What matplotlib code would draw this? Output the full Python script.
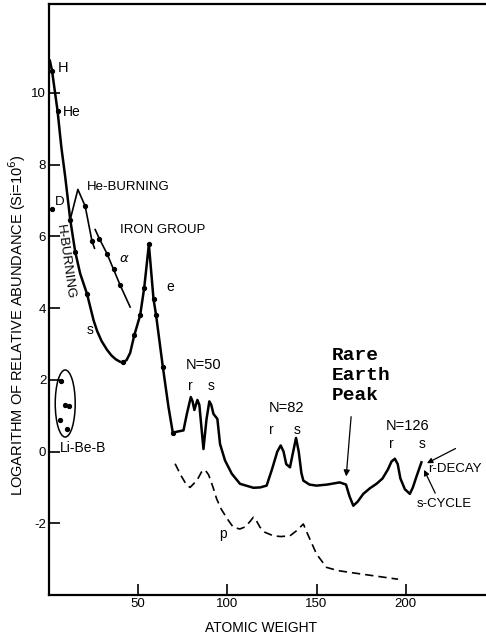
import matplotlib
matplotlib.use('Agg')
import matplotlib.pyplot as plt
from matplotlib.patches import Ellipse

plt.rcParams['font.family'] = ['Liberation Sans', 'DejaVu Sans']

# main abundance curve (atomic weight, log abundance)
main_a = [0.5, 1.7, 4.8, 6.9, 9.1, 11.9, 14.7, 17.5, 21.3, 25.0, 27.0, 29.5, 32.5, 35.0,
          37.5, 40.0, 41.5, 43.5, 45.5, 47.8, 51.1, 53.4, 56.0, 58.6, 60.0, 63.8, 67.0, 69.4,
          75.4, 77.3, 79.5, 80.5, 81.5, 83.2, 84.3, 86.6, 88.3, 89.9, 91.0, 92.2, 94.4, 95.9,
          98.7, 102.5, 107.1, 114.6, 118.4, 122.0, 125.0, 128.0, 129.9, 131.5, 133.0,
          135.1, 136.5, 138.5, 140.0, 141.5, 142.6, 146.0, 150.0, 156.0, 163.0, 166.5, 168.5,
          170.6, 173.0, 176.2, 180.0, 183.6, 187.0, 190.0, 192.0, 193.9, 195.5, 197.0, 199.5,
          202.3, 204.0, 206.0, 208.8]
main_y = [10.9, 10.62, 9.5, 8.5, 7.66, 6.47, 5.57, 4.96, 4.4, 3.66, 3.36, 3.08, 2.84, 2.68,
          2.57, 2.5, 2.49, 2.55, 2.75, 3.24, 3.8, 4.57, 5.78, 4.25, 3.82, 2.37, 1.24, 0.53,
          0.59, 1.05, 1.52, 1.4, 1.16, 1.44, 1.3, 0.07, 0.9, 1.4, 1.3, 1.05, 0.91, 0.21,
          -0.25, -0.62, -0.9, -1.01, -1.0, -0.95, -0.5, 0.0, 0.17, 0.0, -0.35,
          -0.44, -0.1, 0.38, 0.0, -0.6, -0.81, -0.92, -0.95, -0.92, -0.86, -0.92, -1.25,
          -1.51, -1.4, -1.18, -1.02, -0.9, -0.75, -0.5, -0.28, -0.2, -0.35, -0.75, -1.05,
          -1.18, -1.0, -0.7, -0.3]

# measured points on main curve
dot_a = [1.7, 4.8, 11.9, 14.7, 21.3, 41.5, 47.8, 51.1, 53.4, 56.0, 58.6, 60.0, 63.8, 69.4]
dot_y = [10.62, 9.5, 6.47, 5.57, 4.4, 2.49, 3.24, 3.8, 4.57, 5.78, 4.25, 3.82, 2.37, 0.53]

# He-burning branch
heb_a = [11.9, 16.2, 20.3, 24.1, 25.5]
heb_y = [6.47, 7.31, 6.84, 5.87, 5.67]
heb_dot_a = [20.3, 24.1]
heb_dot_y = [6.84, 5.87]

# alpha line
alpha_a = [25.9, 28.2, 32.5, 36.2, 39.9, 45.5]
alpha_y = [6.19, 5.94, 5.52, 5.08, 4.64, 4.03]
alpha_dot_a = [28.2, 32.5, 36.2, 39.9]
alpha_dot_y = [5.94, 5.52, 5.08, 4.64]

# deuterium and Li-Be-B
d_a, d_y = [1.7], [6.75]
libeb_a = [6.9, 9.1, 11.4, 6.0, 10.1]
libeb_y = [1.96, 1.31, 1.26, 0.88, 0.63]

# p-process (dashed)
p_a = [70.7, 74.0, 77.0, 79.1, 83.0, 85.5, 87.5, 89.5, 92.0, 94.0, 96.5, 100.0, 103.3, 107.0,
       110.0, 112.7, 114.6, 116.5, 118.3, 121.0, 125.8, 130.0, 135.1, 139.0, 142.6, 145.0,
       150.0, 155.6, 162.0, 168.7, 180.0, 195.7]
p_y = [-0.34, -0.67, -0.92, -1.0, -0.8, -0.57, -0.51, -0.65, -1.0, -1.32, -1.6, -1.88, -2.11,
       -2.16, -2.1, -1.95, -1.83, -1.95, -2.11, -2.25, -2.35, -2.37, -2.35, -2.2, -2.02, -2.3,
       -2.86, -3.23, -3.32, -3.37, -3.45, -3.56]

x_ticks = [50, 100, 150, 200]
y_ticks = [-2, 0, 2, 4, 6, 8, 10]

fig = plt.figure(figsize=(4.86, 6.38), dpi=100)
ax = fig.add_axes([0.1008, 0.0674, 0.8992, 0.9263])
ax.set_xlim(0, 245)
ax.set_ylim(-4.0, 12.48)

ax.plot(main_a, main_y, color='black', lw=1.8)
ax.plot(dot_a, dot_y, 'o', color='black', ms=2.8)
ax.plot(heb_a, heb_y, color='black', lw=1.2)
ax.plot(heb_dot_a, heb_dot_y, 'o', color='black', ms=2.8)
ax.plot(alpha_a, alpha_y, color='black', lw=1.2)
ax.plot(alpha_dot_a, alpha_dot_y, 'o', color='black', ms=2.8)
ax.plot(d_a, d_y, 'o', color='black', ms=2.8)
ax.plot(libeb_a, libeb_y, 'o', color='black', ms=2.8)
ax.add_patch(Ellipse((9.1, 1.34), 11.2, 1.87, fill=False, color='black', lw=1.1))
ax.plot(p_a, p_y, color='black', lw=1.2, dashes=(5, 3))

# labels
fs = 9.5
ax.text(4.8, 10.7, 'H', fontsize=10.5, va='center')
ax.text(7.8, 9.47, 'He', fontsize=10, va='center')
ax.text(3.5, 6.96, 'D', fontsize=fs, va='center')
ax.text(21.5, 7.38, 'He-BURNING', fontsize=fs, va='center')
ax.text(8.9, 5.3, 'H-BURNING', fontsize=fs, va='center', ha='center', rotation=-82)
ax.text(39, 5.38, r'$\alpha$', fontsize=fs, va='center')
ax.text(40, 6.17, 'IRON GROUP', fontsize=fs, va='center')
ax.text(65.7, 4.58, 'e', fontsize=10, va='center')
ax.text(21.4, 3.4, 's', fontsize=10, va='center')
ax.text(6.3, 0.11, 'Li-Be-B', fontsize=10, va='center')
ax.text(86.5, 2.4, 'N=50', fontsize=10.5, va='center', ha='center')
ax.text(79.1, 1.82, 'r', fontsize=10, va='center', ha='center')
ax.text(90.9, 1.82, 's', fontsize=10, va='center', ha='center')
ax.text(133.2, 1.22, 'N=82', fontsize=10.5, va='center', ha='center')
ax.text(124.9, 0.61, 'r', fontsize=10, va='center', ha='center')
ax.text(138.9, 0.61, 's', fontsize=10, va='center', ha='center')
ax.text(201.3, 0.71, 'N=126', fontsize=10.5, va='center', ha='center')
ax.text(192, 0.2, 'r', fontsize=10, va='center', ha='center')
ax.text(209.4, 0.2, 's', fontsize=10, va='center', ha='center')
ax.text(97.4, -2.3, 'p', fontsize=10, va='center', ha='center')
ax.text(158.4, 2.12, 'Rare\nEarth\nPeak', fontsize=14, family='Liberation Mono',
        fontweight='bold', va='center', ha='left', linespacing=1.2)

ax.annotate('', xy=(166.5, -0.77), xytext=(169.5, 1.05),
            arrowprops=dict(arrowstyle='-|>', color='black', lw=0.9, mutation_scale=9))
ax.text(212.5, -0.48, 'r-DECAY', fontsize=fs, va='center')
ax.annotate('', xy=(210.5, -0.36), xytext=(229.3, 0.12),
            arrowprops=dict(arrowstyle='-|>', color='black', lw=0.9, mutation_scale=8))
ax.annotate('', xy=(209.6, -0.44), xytext=(217.2, -1.23),
            arrowprops=dict(arrowstyle='-|>', color='black', lw=0.9, mutation_scale=8))
ax.text(206, -1.46, 's-CYCLE', fontsize=fs, va='center')

# axes styling
ax.spines['right'].set_visible(False)
for s in ['left', 'top', 'bottom']:
    ax.spines[s].set_linewidth(1.6)
ax.set_xticks(x_ticks)
ax.set_yticks(y_ticks)
ax.set_yticklabels([str(v) for v in y_ticks])
ax.tick_params(direction='in', length=8, width=1.2, labelsize=9.5, pad=2)
ax.set_xlabel('ATOMIC WEIGHT', fontsize=10)
ax.set_ylabel(r'LOGARITHM OF RELATIVE ABUNDANCE (Si=10$^6$)', fontsize=10.5)
ax.xaxis.set_label_coords(0.485, -0.056)
ax.xaxis.label.set_va('center')
ax.yaxis.label.set_va('center')
ax.yaxis.set_label_coords(-0.073, 0.457)

fig.savefig('out.png', dpi=100)
